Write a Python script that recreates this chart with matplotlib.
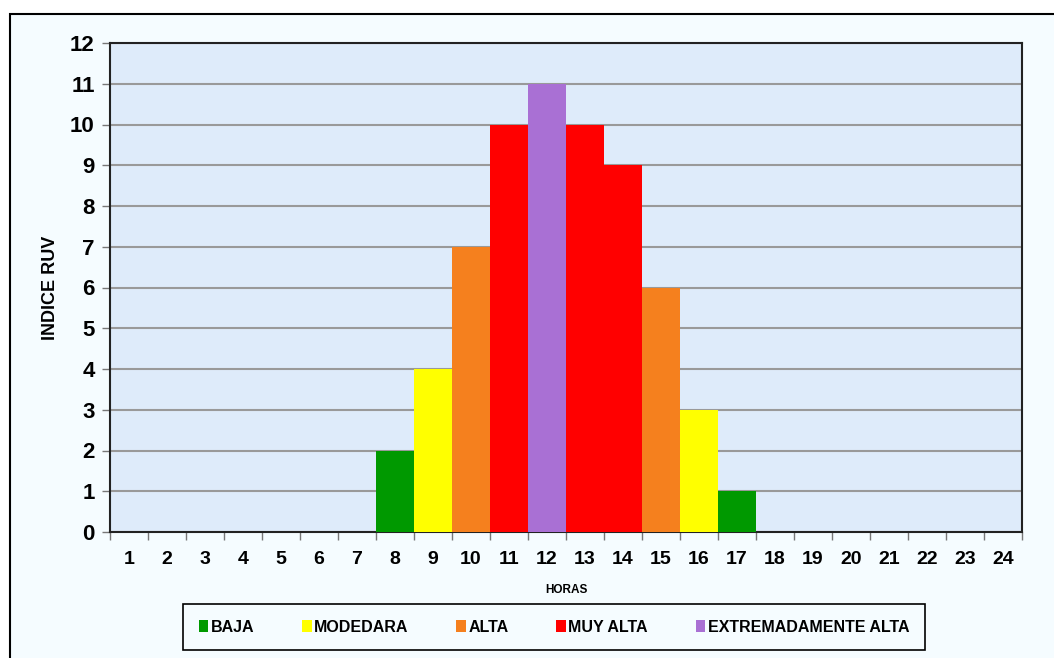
import matplotlib
matplotlib.use("Agg")
import matplotlib.pyplot as plt
from matplotlib.patches import Patch, Rectangle

plt.rcParams['font.family'] = ['Liberation Sans', 'DejaVu Sans']
plt.rcParams['font.weight'] = 'bold'
plt.rcParams['axes.labelweight'] = 'bold'

horas = list(range(1, 25))
indice = [0, 0, 0, 0, 0, 0, 0, 2, 4, 7, 10, 11, 10, 9, 6, 3, 1, 0, 0, 0, 0, 0, 0, 0]
nivel = ["", "", "", "", "", "", "", "BAJA", "MODEDARA", "ALTA", "MUY ALTA",
         "EXTREMADAMENTE ALTA", "MUY ALTA", "MUY ALTA", "ALTA", "MODEDARA", "BAJA",
         "", "", "", "", "", "", ""]
niveles = ["BAJA", "MODEDARA", "ALTA", "MUY ALTA", "EXTREMADAMENTE ALTA"]
colores = {"BAJA": "#009900", "MODEDARA": "#FFFF00", "ALTA": "#F5801E",
           "MUY ALTA": "#FF0000", "EXTREMADAMENTE ALTA": "#A970D4", "": "none"}

W, H = 1054, 658
fig = plt.figure(figsize=(W / 100, H / 100), dpi=100)
fig.patch.set_facecolor("white")
# marco exterior
fig.patches.append(Rectangle((10 / W, -0.05), 1.1, 1 - 14 / H + 0.05, transform=fig.transFigure,
                             facecolor="#F5FCFF", edgecolor="black", linewidth=1.5, zorder=-10))

ax = fig.add_axes([110 / W, 1 - 532 / H, (1022 - 110) / W, (532 - 43) / H])
ax.set_facecolor("#DEEBFA")

ax.bar(horas, indice, width=1.0, color=[colores[n] for n in nivel], edgecolor="none", zorder=3)

ax.set_xlim(0.5, 24.5)
ax.set_ylim(0, 12)
ax.set_yticks(range(0, 13))
ax.grid(axis="y", color="#999999", linewidth=1.5, zorder=1)
ax.set_xticks(horas)
ax.set_xticks([h + 0.5 for h in range(0, 25)], minor=True)
ax.tick_params(axis="x", which="major", length=0, pad=14, labelsize=14)
ax.tick_params(axis="x", which="minor", length=6, width=1, color="#777777")
ax.tick_params(axis="y", length=6, width=1, color="#777777", pad=5, labelsize=16)
for s in ax.spines.values():
    s.set_linewidth(1.5)
    s.set_color("#222222")

ax.set_xlabel("HORAS", fontsize=8.5, labelpad=11)
ax.set_ylabel("INDICE RUV", fontsize=13, labelpad=8)

handles = [Patch(facecolor=colores[n], edgecolor="none") for n in niveles]
leg = fig.legend(handles, niveles, loc="center", ncol=5,
                 bbox_to_anchor=(554 / W, 1 - 627 / H), fontsize=11.5,
                 handlelength=0.6, handleheight=0.8, handletextpad=0.15,
                 columnspacing=3.0, fancybox=False, edgecolor="black",
                 facecolor="#F5FCFF", framealpha=1, borderpad=1.0)
leg.get_frame().set_linewidth(1.2)

fig.savefig("out.png", dpi=100, facecolor=fig.get_facecolor())
